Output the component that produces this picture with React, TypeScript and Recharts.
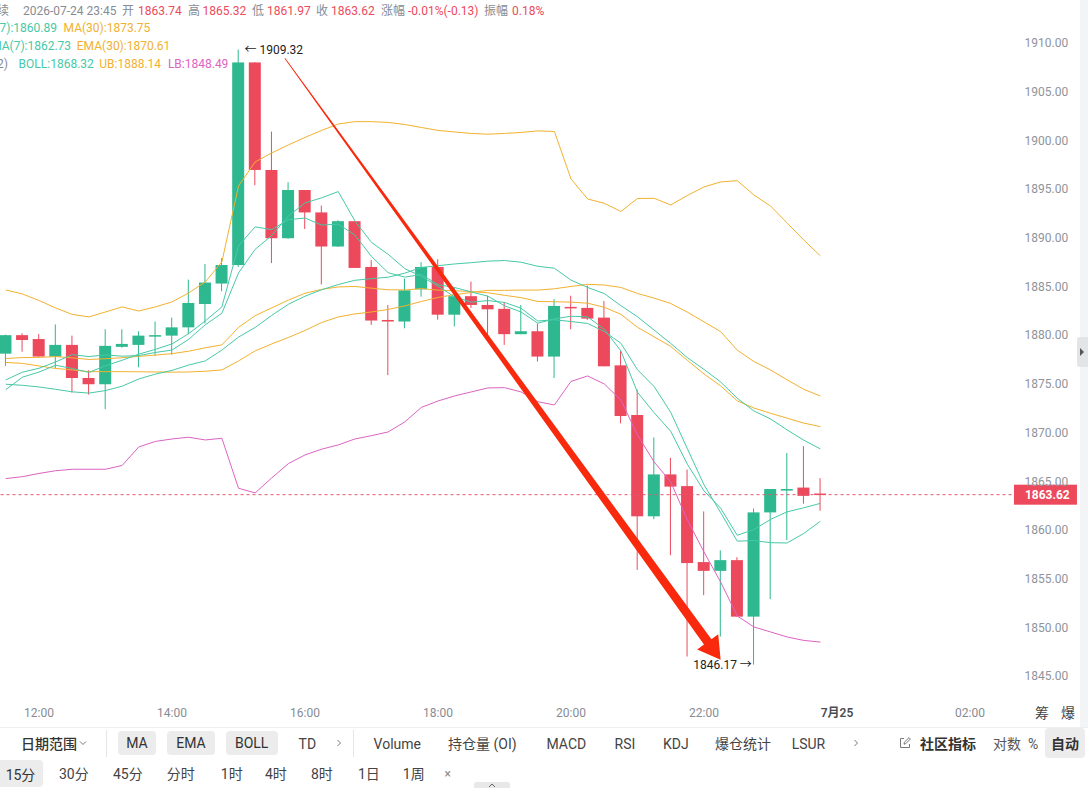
import { ComposedChart, Bar, Line, XAxis, YAxis, ReferenceLine, ReferenceDot } from "recharts";

// 15-minute slots, 11:30 → 02:30 (the last eleven are still empty)
const slots = [
  "11:30", "11:45", "12:00", "12:15", "12:30", "12:45", "13:00", "13:15", "13:30", "13:45",
  "14:00", "14:15", "14:30", "14:45", "15:00", "15:15", "15:30", "15:45", "16:00", "16:15",
  "16:30", "16:45", "17:00", "17:15", "17:30", "17:45", "18:00", "18:15", "18:30", "18:45",
  "19:00", "19:15", "19:30", "19:45", "20:00", "20:15", "20:30", "20:45", "21:00", "21:15",
  "21:30", "21:45", "22:00", "22:15", "22:30", "22:45", "23:00", "23:15", "23:30", "23:45",
  "7月25", "00:15", "00:30", "00:45", "01:00", "01:15", "01:30", "01:45", "02:00", "02:15", "02:30",
];
const xTicks = ["12:00", "14:00", "16:00", "18:00", "20:00", "22:00", "7月25", "02:00"];
const yTicks = [1845, 1850, 1855, 1860, 1865, 1870, 1875, 1880, 1885, 1890, 1895, 1900, 1905, 1910];

const opens = [
  1878.1, 1880.0, 1879.6, 1877.8, 1879.0, 1875.6, 1874.96, 1878.8, 1879.0, 1879.85,
  1879.95, 1880.8, 1883.2, 1885.3, 1887.2, 1908.0, 1896.96, 1889.95, 1894.9, 1892.6,
  1889.1, 1891.7, 1887.0, 1881.56, 1881.4, 1884.7, 1887.0, 1882.1, 1884.0, 1883.1,
  1882.7, 1880.1, 1880.4, 1877.8, 1882.9, 1882.8, 1881.8, 1876.9, 1871.8, 1861.4,
  1865.7, 1864.5, 1856.7, 1855.8, 1856.9, 1851.1, 1861.8, 1864.04, 1864.35, 1863.74,
];
const highs = [
  1880.05, 1880.2, 1880.1, 1881.1, 1879.95, 1876.4, 1880.6, 1880.6, 1880.4, 1881.4,
  1881.8, 1885.7, 1887.3, 1887.9, 1909.32, 1908.0, 1900.9, 1895.7, 1894.9, 1893.3,
  1891.8, 1891.7, 1887.7, 1883.1, 1885.8, 1887.5, 1887.8, 1884.9, 1885.5, 1884.05,
  1883.4, 1883.1, 1881.2, 1883.7, 1884.05, 1885.1, 1883.5, 1878.4, 1874.4, 1869.5,
  1867.4, 1866.2, 1861.9, 1857.9, 1857.2, 1862.2, 1864.2, 1867.9, 1868.6, 1865.32,
];
const lows = [
  1876.84, 1878.3, 1877.8, 1876.6, 1874.1, 1873.9, 1872.4, 1878.7, 1876.7, 1877.9,
  1878.0, 1880.1, 1881.2, 1884.5, 1887.0, 1895.4, 1887.4, 1889.9, 1890.9, 1885.2,
  1889.05, 1886.9, 1881.05, 1875.9, 1880.7, 1883.95, 1881.6, 1880.9, 1882.8, 1879.85,
  1879.0, 1880.1, 1877.3, 1875.6, 1880.6, 1881.56, 1876.8, 1870.95, 1855.9, 1861.1,
  1857.4, 1847.0, 1853.3, 1849.05, 1851.1, 1846.17, 1852.9, 1858.97, 1862.7, 1861.97,
];
const closes = [
  1880.0, 1879.5, 1877.8, 1879.0, 1875.6, 1874.96, 1878.9, 1879.1, 1879.95, 1880.0,
  1880.8, 1883.3, 1885.4, 1887.2, 1908.0, 1896.96, 1889.95, 1894.9, 1892.6, 1889.1,
  1891.7, 1886.9, 1881.5, 1881.4, 1884.6, 1887.0, 1882.1, 1884.0, 1883.1, 1882.65,
  1880.1, 1880.4, 1877.8, 1883.0, 1882.76, 1881.7, 1876.8, 1871.7, 1861.4, 1865.7,
  1864.45, 1856.6, 1855.8, 1856.9, 1851.1, 1861.8, 1864.2, 1864.2, 1863.5, 1863.62,
];

const ma7 = [
  1875.4, 1876.2, 1876.6, 1877.25, 1878.0, 1877.8, 1877.97, 1877.84, 1877.9, 1878.22,
  1878.47, 1879.57, 1881.06, 1882.25, 1886.38, 1888.81, 1890.23, 1892.24, 1893.57, 1894.1,
  1894.74, 1891.73, 1889.52, 1888.3, 1886.83, 1886.03, 1885.03, 1883.93, 1883.39, 1883.55,
  1883.36, 1882.76, 1881.45, 1881.58, 1881.4, 1881.2, 1880.37, 1879.17, 1876.45, 1874.72,
  1872.07, 1868.34, 1864.64, 1861.79, 1858.85, 1858.91, 1858.69, 1858.66, 1859.64, 1860.89,
];
const ma30 = [
  1877.2, 1877.1, 1876.84, 1876.58, 1876.43, 1876.25, 1876.25, 1876.25, 1876.24, 1876.22,
  1876.2, 1876.22, 1876.29, 1876.43, 1877.35, 1878.38, 1879.1, 1879.76, 1880.48, 1881.3,
  1881.87, 1882.18, 1882.38, 1882.64, 1883.0, 1883.46, 1883.87, 1884.16, 1884.38, 1884.6,
  1884.6, 1884.63, 1884.63, 1884.76, 1885.0, 1885.22, 1885.15, 1884.9, 1884.28, 1883.8,
  1883.25, 1882.36, 1881.37, 1880.36, 1878.46, 1877.29, 1876.43, 1875.41, 1874.44, 1873.75,
];
const ema7 = [
  1874.4, 1875.68, 1876.21, 1876.91, 1876.58, 1876.17, 1876.86, 1877.42, 1878.05, 1878.54,
  1879.1, 1880.15, 1881.46, 1882.9, 1889.17, 1891.12, 1890.83, 1891.85, 1892.03, 1891.3,
  1891.4, 1890.28, 1888.08, 1886.41, 1885.96, 1886.22, 1885.19, 1884.89, 1884.44, 1884.0,
  1883.02, 1882.37, 1881.23, 1881.67, 1881.94, 1881.88, 1880.61, 1878.38, 1874.14, 1872.03,
  1870.13, 1866.75, 1864.01, 1862.24, 1859.45, 1860.04, 1861.08, 1861.86, 1862.27, 1862.73,
];
const ema30 = [
  1877.6, 1877.7, 1877.72, 1877.8, 1877.67, 1877.5, 1877.58, 1877.68, 1877.82, 1877.95,
  1878.1, 1878.35, 1878.7, 1879.0, 1880.8, 1882.0, 1882.8, 1883.6, 1884.3, 1884.7,
  1884.95, 1885.0, 1884.82, 1884.66, 1884.64, 1884.78, 1884.62, 1884.56, 1884.47, 1884.35,
  1884.09, 1883.85, 1883.46, 1883.43, 1883.39, 1883.28, 1882.86, 1882.14, 1880.8, 1879.83,
  1878.84, 1877.41, 1876.02, 1874.79, 1873.26, 1872.52, 1871.98, 1871.48, 1870.97, 1870.61,
];
const boll = [
  1874.96, 1874.85, 1874.68, 1874.44, 1874.18, 1874.05, 1874.31, 1874.76, 1875.5, 1876.0,
  1876.38, 1876.93, 1877.35, 1878.47, 1879.8, 1880.79, 1882.03, 1883.17, 1884.0, 1884.66,
  1885.2, 1885.63, 1885.8, 1885.95, 1886.36, 1886.95, 1887.13, 1887.31, 1887.44, 1887.6,
  1887.66, 1887.49, 1887.07, 1886.87, 1885.65, 1884.9, 1884.27, 1883.03, 1881.89, 1880.52,
  1879.15, 1877.69, 1876.48, 1875.2, 1873.52, 1872.22, 1871.4, 1870.27, 1869.22, 1868.32,
];
const ub = [
  1884.64, 1884.23, 1883.56, 1882.79, 1882.13, 1881.87, 1882.38, 1882.9, 1882.48, 1882.9,
  1883.41, 1884.33, 1885.46, 1887.52, 1895.32, 1897.78, 1898.71, 1899.53, 1900.3, 1901.02,
  1901.68, 1901.92, 1901.92, 1901.84, 1901.63, 1901.32, 1901.02, 1900.86, 1900.71, 1900.63,
  1900.71, 1900.81, 1900.97, 1900.91, 1896.04, 1893.98, 1893.54, 1892.7, 1894.03, 1894.05,
  1893.37, 1894.34, 1895.22, 1895.73, 1895.86, 1894.39, 1893.26, 1891.52, 1889.77, 1888.14,
];
const lb = [
  1865.27, 1865.47, 1865.8, 1866.08, 1866.23, 1866.23, 1866.23, 1866.62, 1868.52, 1869.09,
  1869.34, 1869.52, 1869.24, 1869.41, 1864.28, 1863.8, 1865.34, 1866.81, 1867.7, 1868.29,
  1868.73, 1869.34, 1869.68, 1870.06, 1871.09, 1872.58, 1873.24, 1873.76, 1874.17, 1874.58,
  1874.61, 1874.17, 1873.17, 1872.83, 1875.25, 1875.81, 1874.99, 1873.35, 1869.75, 1866.98,
  1864.93, 1861.03, 1857.74, 1854.66, 1851.17, 1850.04, 1849.53, 1849.01, 1848.66, 1848.49,
];

// hand-drawn trend arrow, from just after the spike down to the session low
const arrowFrom = { x: "15:45", y: 1907.92 };
const arrowTo = { x: "22:15", y: 1846.68 };

const UP = "#2db88f";
const DOWN = "#ec4a5c";
const TEAL = "#47c9a7";
const ORANGE = "#f2b12f";
const PINK = "#dc63c2";
const GRAY = "#878c94";
const FONT = "Roboto, 'Noto Sans CJK SC', sans-serif";

const rows = slots.map((t, i) =>
  i < closes.length
    ? {
        t,
        open: opens[i],
        high: highs[i],
        low: lows[i],
        close: closes[i],
        range: [lows[i], highs[i]],
        ma7: ma7[i],
        ma30: ma30[i],
        ema7: ema7[i],
        ema30: ema30[i],
        boll: boll[i],
        ub: ub[i],
        lb: lb[i],
      }
    : { t }
);

const last = (a: number[]) => a[a.length - 1];
const lastOpen = last(opens);
const lastClose = last(closes);
const hi = Math.max(...highs);
const lo = Math.min(...lows);
const hiSlot = slots[highs.indexOf(hi)];
const loSlot = slots[lows.indexOf(lo)];

const Candle = (props: any) => {
  const { x, y, width, height, payload } = props;
  if (!payload || payload.open == null || !Number.isFinite(y)) return null;
  const { open, close, high, low } = payload;
  const color = close >= open ? UP : DOWN;
  const top = Math.min(y, y + height);
  const h = Math.abs(height);
  const span = high - low || 1;
  const py = (v: number) => top + ((high - v) / span) * h;
  const cx = x + width / 2;
  const bTop = py(Math.max(open, close));
  const bBot = py(Math.min(open, close));
  return (
    <g>
      <line x1={cx} x2={cx} y1={top} y2={top + h} stroke={color} strokeWidth={1} />
      <rect x={x} y={bTop} width={width} height={Math.max(bBot - bTop, 1.5)} fill={color} />
    </g>
  );
};

const XTick = ({ x, y, payload }: any) => {
  const strong = payload.value === "7月25";
  return (
    <text
      x={x}
      y={y}
      dy="0.71em"
      textAnchor="middle"
      fontSize={12}
      fontFamily={FONT}
      fill={strong ? "#4a4d52" : GRAY}
      fontWeight={strong ? 600 : 400}
    >
      {payload.value}
    </text>
  );
};

const PriceTag = (props: any) => {
  const vb = props.viewBox;
  if (!vb) return null;
  const x = vb.x + vb.width + 2.4;
  return (
    <g>
      <rect x={x} y={vb.y - 10} width={63} height={20} fill={lastClose >= lastOpen ? UP : DOWN} />
      <text x={x + 11} y={vb.y} dominantBaseline="central" fontSize={12} fontWeight={700} fill="#fff" fontFamily={FONT}>
        {lastClose.toFixed(2)}
      </text>
    </g>
  );
};

const TrendArrow = (props: any) => {
  const { x1, y1, x2, y2 } = props;
  if (![x1, y1, x2, y2].every((v) => Number.isFinite(v))) return null;
  const dx = x2 - x1;
  const dy = y2 - y1;
  const len = Math.hypot(dx, dy);
  const ux = dx / len;
  const uy = dy / len;
  const nx = -uy;
  const ny = ux;
  const sx = x1 - ux * 6;
  const sy = y1 - uy * 6;
  const head = 22;
  const wing = 13;
  const neck = 4.6;
  const tail = 0.4;
  const bx = x2 - ux * head;
  const by = y2 - uy * head;
  const pts = [
    [sx + nx * tail, sy + ny * tail],
    [bx + nx * neck, by + ny * neck],
    [bx + nx * wing, by + ny * wing],
    [x2, y2],
    [bx - nx * wing, by - ny * wing],
    [bx - nx * neck, by - ny * neck],
    [sx - nx * tail, sy - ny * tail],
  ];
  return <polygon points={pts.map((p) => p.join(",")).join(" ")} fill="#f8290c" />;
};

const Txt = ({ left, top, children, color = "#444", size = 12, weight = 400 }: any) => (
  <span
    style={{
      position: "absolute",
      left,
      top,
      fontSize: size,
      lineHeight: `${size + 2}px`,
      color,
      fontWeight: weight,
      whiteSpace: "pre",
    }}
  >
    {children}
  </span>
);

const Pill = ({ left, top, width, height, children, weight = 400 }: any) => (
  <div
    style={{
      position: "absolute",
      left,
      top,
      width,
      height,
      background: "#ececec",
      borderRadius: 4,
      display: "flex",
      alignItems: "center",
      justifyContent: "center",
      fontSize: 14,
      color: "#333",
      fontWeight: weight,
    }}
  >
    {children}
  </div>
);

const Chevron = ({ left, top, down = false }: any) => (
  <svg style={{ position: "absolute", left, top }} width={8} height={8} viewBox="0 0 8 8">
    <polyline
      points={down ? "1,2.5 4,5.5 7,2.5" : "2.5,1 5.5,4 2.5,7"}
      fill="none"
      stroke="#777"
      strokeWidth={1}
    />
  </svg>
);

const lineProps = {
  strokeWidth: 1,
  dot: false,
  activeDot: false,
  isAnimationActive: false,
} as const;

export default function App() {
  const r1 = 736; // first toolbar row, text top
  const r2 = 766; // second toolbar row, text top
  return (
    <div
      style={{
        position: "relative",
        width: 1088,
        height: 788,
        overflow: "hidden",
        background: "#fff",
        fontFamily: FONT,
      }}
    >
      <style>{"body{margin:0}"}</style>

      <div style={{ position: "absolute", left: 0, top: 0 }}>
        <ComposedChart width={1088} height={727} data={rows} margin={{ top: 0, right: 0, bottom: 0, left: -2.56 }}>
          <XAxis
            dataKey="t"
            type="category"
            ticks={xTicks}
            interval={0}
            tickLine={false}
            axisLine={false}
            height={27}
            tick={<XTick />}
          />
          <YAxis
            orientation="right"
            width={76.44}
            domain={[1842.54, 1914.41]}
            allowDataOverflow
            ticks={yTicks}
            tickFormatter={(v: number) => v.toFixed(2)}
            axisLine={false}
            tickLine={false}
            tickSize={6}
            tickMargin={7}
            tick={{ fontSize: 12, fill: "#8f949b", fontFamily: FONT }}
          />
          <ReferenceLine
            y={lastClose}
            stroke="#e4566c"
            strokeDasharray="3 3"
            strokeWidth={1}
            label={PriceTag}
          />
          <Bar dataKey="range" barSize={12} shape={Candle} activeBar={false} isAnimationActive={false} />
          <Line dataKey="ub" stroke={ORANGE} {...lineProps} />
          <Line dataKey="ma30" stroke={ORANGE} {...lineProps} />
          <Line dataKey="ema30" stroke={ORANGE} {...lineProps} />
          <Line dataKey="boll" stroke={TEAL} {...lineProps} />
          <Line dataKey="ma7" stroke={TEAL} {...lineProps} />
          <Line dataKey="ema7" stroke={TEAL} {...lineProps} />
          <Line dataKey="lb" stroke={PINK} {...lineProps} />
          <ReferenceDot
            x={hiSlot}
            y={hi}
            r={1}
            fill="none"
            stroke="none"
            label={{ value: `← ${hi.toFixed(2)}`, position: "right", offset: 5, fontSize: 12, fill: "#222", fontFamily: FONT }}
          />
          <ReferenceDot
            x={loSlot}
            y={lo}
            r={1}
            fill="none"
            stroke="none"
            label={{ value: `${lo.toFixed(2)} →`, position: "left", offset: 1, fontSize: 12, fill: "#222", fontFamily: FONT }}
          />
          <ReferenceLine segment={[arrowFrom, arrowTo]} shape={TrendArrow} />
        </ComposedChart>
      </div>

      {/* quote header */}
      <Txt left={-15} top={4} color={GRAY}>永续</Txt>
      <Txt left={23} top={4} color={GRAY}>2026-07-24 23:45</Txt>
      <Txt left={122} top={4} color={GRAY}>开</Txt>
      <Txt left={138} top={4} color={DOWN}>{lastOpen.toFixed(2)}</Txt>
      <Txt left={188} top={4} color={GRAY}>高</Txt>
      <Txt left={202.5} top={4} color={DOWN}>{last(highs).toFixed(2)}</Txt>
      <Txt left={252} top={4} color={GRAY}>低</Txt>
      <Txt left={267} top={4} color={DOWN}>{last(lows).toFixed(2)}</Txt>
      <Txt left={316} top={4} color={GRAY}>收</Txt>
      <Txt left={331} top={4} color={DOWN}>{lastClose.toFixed(2)}</Txt>
      <Txt left={381} top={4} color={GRAY}>涨幅</Txt>
      <Txt left={408} top={4} color={DOWN}>-0.01%(-0.13)</Txt>
      <Txt left={484} top={4} color={GRAY}>振幅</Txt>
      <Txt left={512} top={4} color={DOWN}>0.18%</Txt>

      {/* indicator legends */}
      <Txt left={-23} top={21.3} color={TEAL}>{`MA(7):${last(ma7).toFixed(2)}`}</Txt>
      <Txt left={63.6} top={21.3} color={ORANGE}>{`MA(30):${last(ma30).toFixed(2)}`}</Txt>
      <Txt left={-15.7} top={39} color={TEAL}>{`EMA(7):${last(ema7).toFixed(2)}`}</Txt>
      <Txt left={76.8} top={39} color={ORANGE}>{`EMA(30):${last(ema30).toFixed(2)}`}</Txt>
      <Txt left={-51.5} top={57.3} color={GRAY}>BOLL(20,2)</Txt>
      <Txt left={18.6} top={57.3} color={TEAL}>{`BOLL:${last(boll).toFixed(2)}`}</Txt>
      <Txt left={99.3} top={57.3} color={ORANGE}>{`UB:${last(ub).toFixed(2)}`}</Txt>
      <Txt left={167.9} top={57.3} color={PINK}>{`LB:${last(lb).toFixed(2)}`}</Txt>

      {/* right edge strip */}
      <div style={{ position: "absolute", left: 1080, top: 0, width: 8, height: 727, background: "#f3f4f6" }} />
      <div
        style={{
          position: "absolute",
          left: 1077,
          top: 337,
          width: 11,
          height: 30,
          background: "#e3e4e6",
          borderRadius: "3px 0 0 3px",
        }}
      />
      <svg style={{ position: "absolute", left: 1079, top: 348 }} width={6} height={8} viewBox="0 0 6 8">
        <polygon points="1,0 5,4 1,8" fill="#555" />
      </svg>
      <Txt left={1035} top={705} size={14} color="#444">筹</Txt>
      <Txt left={1061} top={705} size={14} color="#444">爆</Txt>

      {/* toolbar */}
      <div style={{ position: "absolute", left: 0, top: 727, width: 1088, height: 1, background: "#eeeeee" }} />
      <Txt left={21} top={r1} size={14} color="#333" weight={500}>日期范围</Txt>
      <Chevron left={79} top={739} down />
      <div style={{ position: "absolute", left: 106, top: 730, width: 1, height: 27, background: "#e6e6e6" }} />
      <Pill left={118} top={731} width={38} height={24}>MA</Pill>
      <Pill left={166.7} top={731} width={48.6} height={24}>EMA</Pill>
      <Pill left={225.7} top={731} width={52} height={24}>BOLL</Pill>
      <Txt left={298.6} top={r1} size={14} color="#444">TD</Txt>
      <Chevron left={335} top={739} />
      <div style={{ position: "absolute", left: 353, top: 730, width: 1, height: 27, background: "#e6e6e6" }} />
      <Txt left={373.6} top={r1} size={14} color="#444">Volume</Txt>
      <Txt left={448} top={r1} size={14} color="#444">持仓量 (OI)</Txt>
      <Txt left={546.5} top={r1} size={14} color="#444">MACD</Txt>
      <Txt left={614.6} top={r1} size={14} color="#444">RSI</Txt>
      <Txt left={663} top={r1} size={14} color="#444">KDJ</Txt>
      <Txt left={715} top={r1} size={14} color="#444">爆仓统计</Txt>
      <Txt left={791.7} top={r1} size={14} color="#444">LSUR</Txt>
      <Chevron left={852} top={739} />
      <svg style={{ position: "absolute", left: 899, top: 737 }} width={12} height={12} viewBox="0 0 12 12">
        <path d="M5 1.5H1.5v9h9V7" fill="none" stroke="#777" strokeWidth={1} />
        <path d="M5 7.2l.4-2L10 0.6l1.4 1.4L6.8 6.6z" fill="none" stroke="#777" strokeWidth={1} />
      </svg>
      <Txt left={920} top={r1} size={14} color="#333" weight={700}>社区指标</Txt>
      <Txt left={993} top={r1} size={14} color="#555">对数</Txt>
      <Txt left={1028} top={r1} size={14} color="#555">%</Txt>
      <Pill left={1045} top={728} width={40} height={30} weight={700}>自动</Pill>

      <Pill left={-2} top={760} width={45} height={27}>15分</Pill>
      <Txt left={59} top={r2} size={14} color="#444">30分</Txt>
      <Txt left={113} top={r2} size={14} color="#444">45分</Txt>
      <Txt left={166.7} top={r2} size={14} color="#444">分时</Txt>
      <Txt left={220.8} top={r2} size={14} color="#444">1时</Txt>
      <Txt left={265} top={r2} size={14} color="#444">4时</Txt>
      <Txt left={311} top={r2} size={14} color="#444">8时</Txt>
      <Txt left={358} top={r2} size={14} color="#444">1日</Txt>
      <Txt left={402.8} top={r2} size={14} color="#444">1周</Txt>
      <Txt left={444.4} top={767} size={12} color="#888">×</Txt>
      <div
        style={{
          position: "absolute",
          left: 474,
          top: 782,
          width: 36,
          height: 8,
          background: "#e8e8e8",
          borderRadius: "3px 3px 0 0",
        }}
      />
      <svg style={{ position: "absolute", left: 488, top: 783 }} width={8} height={5} viewBox="0 0 8 5">
        <polyline points="1,4 4,1 7,4" fill="none" stroke="#666" strokeWidth={1} />
      </svg>
    </div>
  );
}
